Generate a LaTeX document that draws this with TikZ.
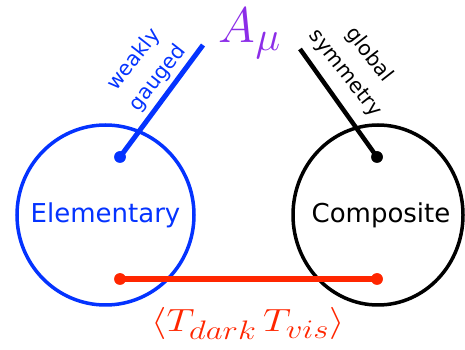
\documentclass[tikz,border=0pt]{standalone}
\usepackage{fontspec}
\newfontfamily\labelfont{DejaVu Sans}
\usepackage{graphicx}
\usepackage{tikz}
\usetikzlibrary{shapes.geometric,positioning}
\definecolor{kblue}{HTML}{0433FF}
\definecolor{kred}{HTML}{FF2600}
\definecolor{kpurple}{HTML}{8C2DE8}
\tikzset{
  sector/.style={draw,ellipse,line width=3.5pt,inner sep=0},
  sector name/.style={inner sep=0,font=\labelfont\fontsize{26}{30}\selectfont},
  vertex/.style={circle,fill,inner sep=0,minimum size=11.5pt},
  leg/.style={line width=5pt},
  tag/.style={align=center,inner sep=0,font=\labelfont\fontsize{20.5}{30}\selectfont}
}

\begin{document}
\begin{tikzpicture}[x=1pt,y=1pt]
  \useasboundingbox (0,0) rectangle (465,350);

  % the two sectors
  \node[sector,kblue,minimum width=177,minimum height=180] (elem) at (105.5,135) {};
  \node[sector,black,minimum width=170,minimum height=180] (comp) at (378,135) {};
  \node[sector name,kblue] (elemname) at (elem.center) {Elementary};
  \node[sector name,xshift=3] (compname) at (comp.center) {Composite};

  % vertices and leg ends
  \node[vertex,kblue] (gvert) at (120,193) {};
  \node[vertex] (svert) at (377,193) {};
  \node[vertex,kred] (lvert) at (120,71) {};
  \node[vertex,kred] (rvert) at (377,71) {};
  \coordinate (gend) at (203,305);
  \coordinate (send) at (300,301);

  % legs
  \draw[leg,kblue] (gvert.center) -- (gend);
  \draw[leg,line width=4.5pt] (svert.center) -- (send);
  \draw[leg,kred,line width=6pt] (lvert.center) -- (rvert.center);
  \node[vertex,kblue] at (gvert) {};
  \node[vertex] at (svert) {};
  \node[vertex,kred] at (lvert) {};
  \node[vertex,kred] at (rvert) {};

  % labels
  \node[tag,kblue,rotate=52] (gauge) at (146,281) {weakly\\gauged};
  \node[tag,rotate=-52] (glob) at (357,286) {global\\symmetry};
  \node[kpurple,inner sep=0,anchor=base] (amu) at (250,307) {\scalebox{2.01}{\Huge$A_\mu$}};
  \node[kred,inner sep=0,anchor=base] (vev) at (248,18) {\scalebox{1.58}[1.29]{\Huge$\langle T_{dark}\,T_{vis}\rangle$}};

\end{tikzpicture}
\end{document}
